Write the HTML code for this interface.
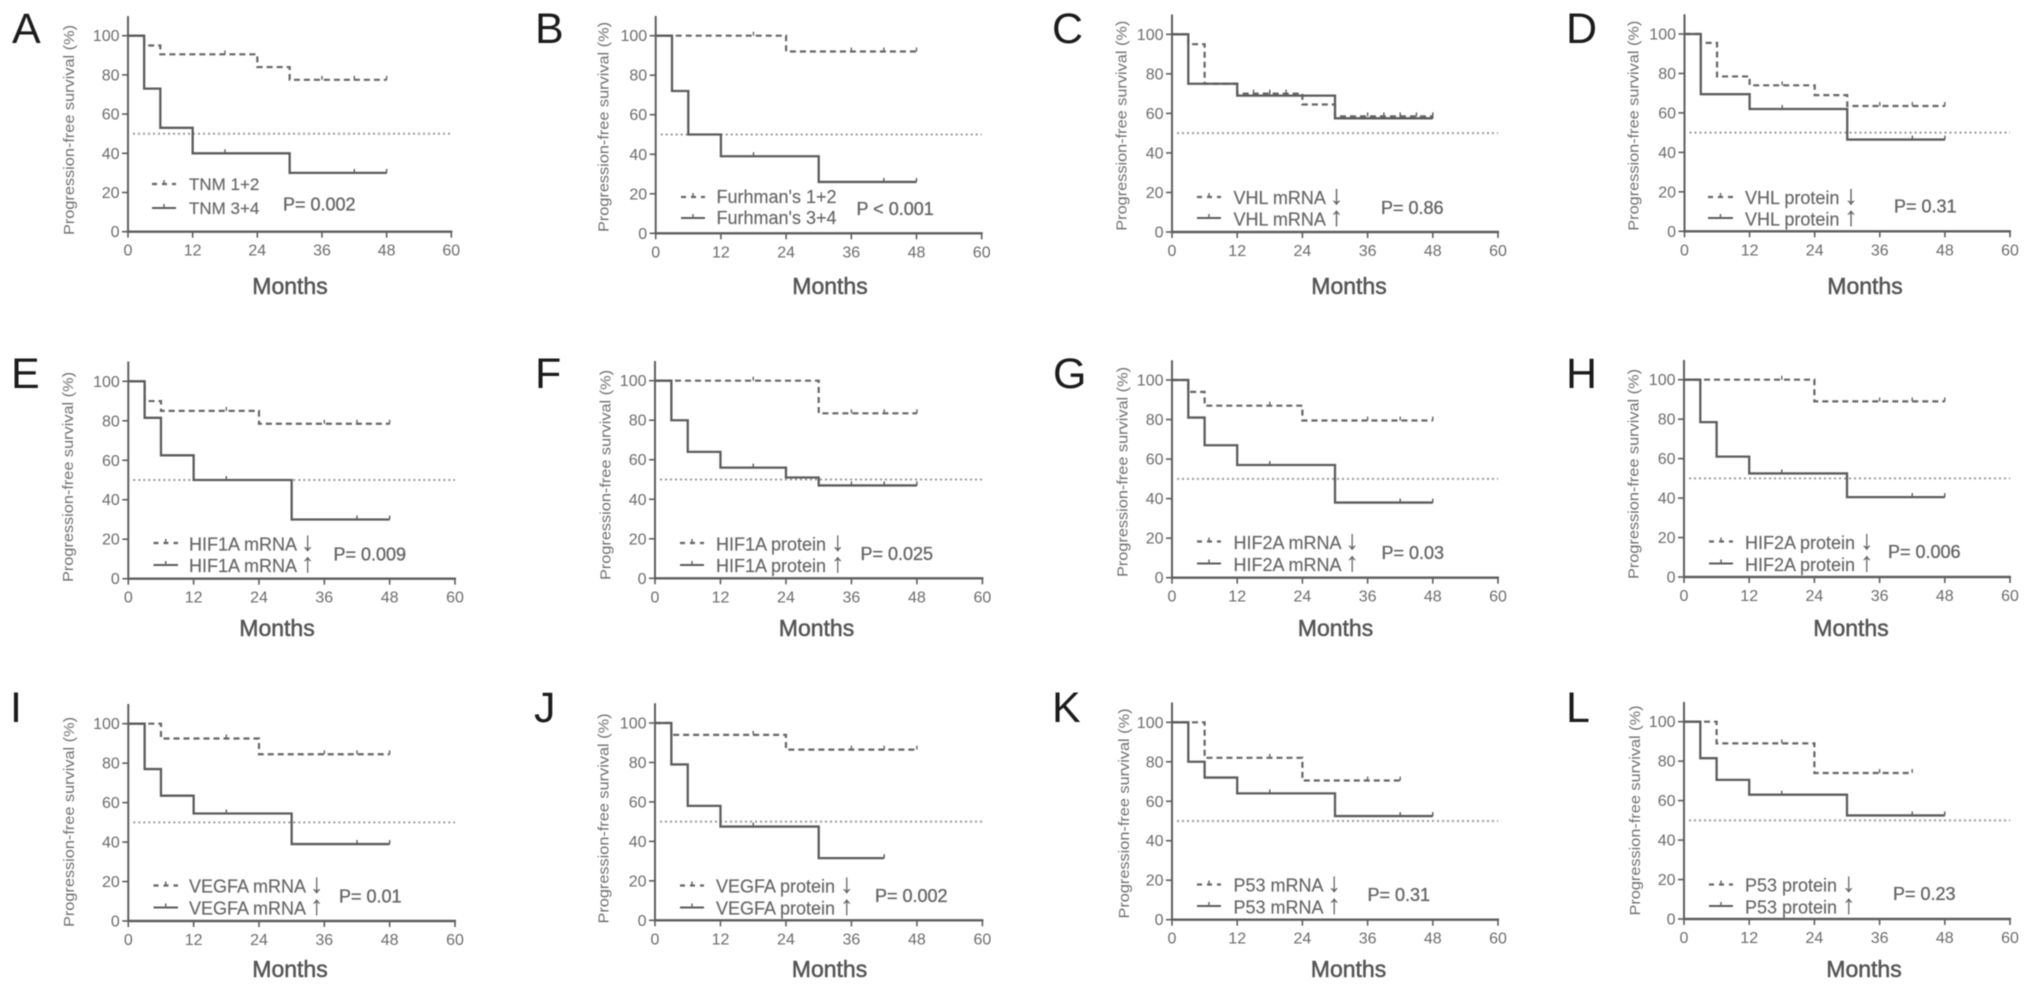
<!DOCTYPE html>
<html lang="en">
<head>
<meta charset="utf-8">
<title>Progression-free survival Kaplan-Meier panels</title>
<style>
html,body{margin:0;padding:0;background:#fff;width:2031px;height:989px;overflow:hidden}
svg{display:block;filter:blur(0.6px)}
text{font-family:"Liberation Sans",sans-serif;fill:#666}
.letter{font-size:43px;fill:#1c1c1c}
.ytitle{font-size:15px;fill:#707070}
.months{font-size:23px;fill:#555;text-anchor:middle;stroke:#555;stroke-width:.5px}
.leg{font-size:18px;fill:#666;stroke:#666;stroke-width:.15px}
.arrow{font-size:27px}
.pval{font-size:18px;fill:#666;stroke:#666;stroke-width:.35px}
.tick-label{font-size:16px;fill:#6c6c6c}
.s-dash{stroke:#666;stroke-width:2.2;stroke-dasharray:6 4;fill:none}
.s-solid{stroke:#5c5c5c;stroke-width:2.3;fill:none}
.sample-dash{stroke:#666;stroke-width:2.2;stroke-dasharray:5 5;fill:none}
.sample-solid{stroke:#5c5c5c;stroke-width:2;fill:none}
</style>
</head>
<body>
<svg id="figure" width="2031" height="989" viewBox="0 0 2031 989" xmlns="http://www.w3.org/2000/svg">

<g id="panel-A">
<text class="letter" x="12" y="43">A</text>
<text class="ytitle" x="74" y="130" text-anchor="middle" textLength="210" lengthAdjust="spacingAndGlyphs" transform="rotate(-90 74 130)">Progression-free survival (%)</text>
<text class="months" x="290" y="294">Months</text>
<line class="sample-dash" x1="152" x2="176" y1="184" y2="184"/>
<line class="sample-solid" x1="152" x2="176" y1="208" y2="208"/>
<text class="leg" style="font-size:17px" x="189" y="190">TNM 1+2</text>
<text class="leg" style="font-size:17px" x="189" y="214">TNM 3+4</text>
<text class="pval" x="283" y="210.5">P= 0.002</text>
</g>

<g id="panel-B">
<text class="letter" x="535" y="43">B</text>
<text class="ytitle" x="608.5" y="127" text-anchor="middle" textLength="210" lengthAdjust="spacingAndGlyphs" transform="rotate(-90 608.5 127)">Progression-free survival (%)</text>
<text class="months" x="830" y="294">Months</text>
<line class="sample-dash" x1="681" x2="705" y1="197" y2="197"/>
<line class="sample-solid" x1="681" x2="705" y1="218" y2="218"/>
<text class="leg" x="716.5" y="203">Furhman's 1+2</text>
<text class="leg" x="716.5" y="224">Furhman's 3+4</text>
<text class="pval" x="856.5" y="215">P &lt; 0.001</text>
</g>

<g id="panel-C">
<text class="letter" x="1052" y="43">C</text>
<text class="ytitle" x="1126.5" y="125.7" text-anchor="middle" textLength="210" lengthAdjust="spacingAndGlyphs" transform="rotate(-90 1126.5 125.7)">Progression-free survival (%)</text>
<text class="months" x="1349" y="294">Months</text>
<line class="sample-dash" x1="1197" x2="1221" y1="197" y2="197"/>
<line class="sample-solid" x1="1197" x2="1221" y1="218" y2="218"/>
<text class="leg" x="1233.5" y="204">VHL mRNA <tspan class="arrow">↓</tspan></text>
<text class="leg" x="1233.5" y="225.5">VHL mRNA <tspan class="arrow">↑</tspan></text>
<text class="pval" x="1381" y="214">P= 0.86</text>
</g>

<g id="panel-D">
<text class="letter" x="1566" y="43">D</text>
<text class="ytitle" x="1638.5" y="125.7" text-anchor="middle" textLength="210" lengthAdjust="spacingAndGlyphs" transform="rotate(-90 1638.5 125.7)">Progression-free survival (%)</text>
<text class="months" x="1865" y="294">Months</text>
<line class="sample-dash" x1="1708" x2="1733" y1="197" y2="197"/>
<line class="sample-solid" x1="1708" x2="1733" y1="218" y2="218"/>
<text class="leg" x="1745" y="204">VHL protein <tspan class="arrow">↓</tspan></text>
<text class="leg" x="1745" y="225.5">VHL protein <tspan class="arrow">↑</tspan></text>
<text class="pval" x="1894" y="212.5">P= 0.31</text>
</g>

<g id="panel-E">
<text class="letter" x="11" y="388">E</text>
<text class="ytitle" x="73" y="477" text-anchor="middle" textLength="210" lengthAdjust="spacingAndGlyphs" transform="rotate(-90 73 477)">Progression-free survival (%)</text>
<text class="months" x="277" y="636">Months</text>
<line class="sample-dash" x1="153.5" x2="178" y1="543" y2="543"/>
<line class="sample-solid" x1="153.5" x2="178" y1="565" y2="565"/>
<text class="leg" x="189" y="550.5">HIF1A mRNA <tspan class="arrow">↓</tspan></text>
<text class="leg" x="189" y="572">HIF1A mRNA <tspan class="arrow">↑</tspan></text>
<text class="pval" x="333.5" y="560.5">P= 0.009</text>
</g>

<g id="panel-F">
<text class="letter" x="535" y="388">F</text>
<text class="ytitle" x="610.5" y="475" text-anchor="middle" textLength="210" lengthAdjust="spacingAndGlyphs" transform="rotate(-90 610.5 475)">Progression-free survival (%)</text>
<text class="months" x="816.5" y="636">Months</text>
<line class="sample-dash" x1="680" x2="704" y1="543" y2="543"/>
<line class="sample-solid" x1="680" x2="704" y1="565" y2="565"/>
<text class="leg" x="716" y="550.5">HIF1A protein <tspan class="arrow">↓</tspan></text>
<text class="leg" x="716" y="572">HIF1A protein <tspan class="arrow">↑</tspan></text>
<text class="pval" x="860.5" y="560">P= 0.025</text>
</g>

<g id="panel-G">
<text class="letter" x="1053" y="388">G</text>
<text class="ytitle" x="1127.5" y="472" text-anchor="middle" textLength="210" lengthAdjust="spacingAndGlyphs" transform="rotate(-90 1127.5 472)">Progression-free survival (%)</text>
<text class="months" x="1335.5" y="636">Months</text>
<line class="sample-dash" x1="1197" x2="1221" y1="541.5" y2="541.5"/>
<line class="sample-solid" x1="1197" x2="1221" y1="563.5" y2="563.5"/>
<text class="leg" x="1233.5" y="549">HIF2A mRNA <tspan class="arrow">↓</tspan></text>
<text class="leg" x="1233.5" y="571">HIF2A mRNA <tspan class="arrow">↑</tspan></text>
<text class="pval" x="1381.5" y="559">P= 0.03</text>
</g>

<g id="panel-H">
<text class="letter" x="1566" y="388">H</text>
<text class="ytitle" x="1638.5" y="474" text-anchor="middle" textLength="210" lengthAdjust="spacingAndGlyphs" transform="rotate(-90 1638.5 474)">Progression-free survival (%)</text>
<text class="months" x="1851" y="636">Months</text>
<line class="sample-dash" x1="1709" x2="1733" y1="541.5" y2="541.5"/>
<line class="sample-solid" x1="1709" x2="1733" y1="563.5" y2="563.5"/>
<text class="leg" x="1745" y="549">HIF2A protein <tspan class="arrow">↓</tspan></text>
<text class="leg" x="1745" y="571">HIF2A protein <tspan class="arrow">↑</tspan></text>
<text class="pval" x="1888" y="558">P= 0.006</text>
</g>

<g id="panel-I">
<text class="letter" x="10" y="722">I</text>
<text class="ytitle" x="74" y="822" text-anchor="middle" textLength="210" lengthAdjust="spacingAndGlyphs" transform="rotate(-90 74 822)">Progression-free survival (%)</text>
<text class="months" x="290" y="977">Months</text>
<line class="sample-dash" x1="153.5" x2="178" y1="885.5" y2="885.5"/>
<line class="sample-solid" x1="153.5" x2="178" y1="907.5" y2="907.5"/>
<text class="leg" x="189" y="892.5">VEGFA mRNA <tspan class="arrow">↓</tspan></text>
<text class="leg" x="189" y="914.5">VEGFA mRNA <tspan class="arrow">↑</tspan></text>
<text class="pval" x="339" y="902.5">P= 0.01</text>
</g>

<g id="panel-J">
<text class="letter" x="534" y="722">J</text>
<text class="ytitle" x="608.5" y="818.5" text-anchor="middle" textLength="210" lengthAdjust="spacingAndGlyphs" transform="rotate(-90 608.5 818.5)">Progression-free survival (%)</text>
<text class="months" x="829.5" y="977">Months</text>
<line class="sample-dash" x1="680" x2="704" y1="885.5" y2="885.5"/>
<line class="sample-solid" x1="680" x2="704" y1="907.5" y2="907.5"/>
<text class="leg" x="716" y="892.5">VEGFA protein <tspan class="arrow">↓</tspan></text>
<text class="leg" x="716" y="914.5">VEGFA protein <tspan class="arrow">↑</tspan></text>
<text class="pval" x="875" y="902">P= 0.002</text>
</g>

<g id="panel-K">
<text class="letter" x="1052" y="722">K</text>
<text class="ytitle" x="1129" y="813.5" text-anchor="middle" textLength="210" lengthAdjust="spacingAndGlyphs" transform="rotate(-90 1129 813.5)">Progression-free survival (%)</text>
<text class="months" x="1348.5" y="977">Months</text>
<line class="sample-dash" x1="1197" x2="1221" y1="884.5" y2="884.5"/>
<line class="sample-solid" x1="1197" x2="1221" y1="906" y2="906"/>
<text class="leg" x="1233.5" y="891.5">P53 mRNA <tspan class="arrow">↓</tspan></text>
<text class="leg" x="1233.5" y="913.5">P53 mRNA <tspan class="arrow">↑</tspan></text>
<text class="pval" x="1367.5" y="901">P= 0.31</text>
</g>

<g id="panel-L">
<text class="letter" x="1566" y="722">L</text>
<text class="ytitle" x="1640" y="810.5" text-anchor="middle" textLength="210" lengthAdjust="spacingAndGlyphs" transform="rotate(-90 1640 810.5)">Progression-free survival (%)</text>
<text class="months" x="1864" y="977">Months</text>
<line class="sample-dash" x1="1709" x2="1733" y1="884.5" y2="884.5"/>
<line class="sample-solid" x1="1709" x2="1733" y1="906" y2="906"/>
<text class="leg" x="1745" y="891.5">P53 protein <tspan class="arrow">↓</tspan></text>
<text class="leg" x="1745" y="913.5">P53 protein <tspan class="arrow">↑</tspan></text>
<text class="pval" x="1893" y="900">P= 0.23</text>
</g>
</svg>

<script>
// Shared axis values
const xTickLabels = [0, 12, 24, 36, 48, 60];
const yTickLabels = [0, 20, 40, 60, 80, 100];
const referenceSurvival = [50];

// Series values (months at each step, survival % after step, censor months)
const aLowMonths = [0, 3, 6, 24, 30, 48];
const aLowSurvival = [100, 95, 90.5, 84, 77.5, 77.5];
const aLowCensored = [18, 36, 42, 48];
const aHighMonths = [0, 3, 6, 12, 30, 48];
const aHighSurvival = [100, 73, 53, 40, 30, 30];
const aHighCensored = [18, 42, 48];

const bLowMonths = [0, 24, 48];
const bLowSurvival = [100, 92, 92];
const bLowCensored = [18, 36, 42, 48];
const bHighMonths = [0, 3, 6, 12, 30, 48];
const bHighSurvival = [100, 72, 50, 39, 26, 26];
const bHighCensored = [18, 42, 48];

const cLowMonths = [0, 3, 6, 12, 24, 30, 48];
const cLowSurvival = [100, 95, 75, 70, 64.5, 58.5, 58.5];
const cLowCensored = [15, 18, 21, 36, 39, 42, 45, 48];
const cHighMonths = [0, 3, 12, 30, 48];
const cHighSurvival = [100, 75, 69, 57.5, 57.5];
const cHighCensored = [18, 42, 48];

const dLowMonths = [0, 3, 6, 12, 24, 30, 48];
const dLowSurvival = [100, 95.5, 78.5, 74, 69, 63.5, 63.5];
const dLowCensored = [18, 36, 42, 48];
const dHighMonths = [0, 3, 12, 30, 48];
const dHighSurvival = [100, 69.5, 62, 46.5, 46.5];
const dHighCensored = [18, 42, 48];

const eLowMonths = [0, 3, 6, 24, 48];
const eLowSurvival = [100, 90, 85, 78.5, 78.5];
const eLowCensored = [18, 36, 42, 48];
const eHighMonths = [0, 3, 6, 12, 30, 48];
const eHighSurvival = [100, 81.5, 62.5, 50, 30, 30];
const eHighCensored = [18, 42, 48];

const fLowMonths = [0, 30, 48];
const fLowSurvival = [100, 83.5, 83.5];
const fLowCensored = [18, 36, 42, 48];
const fHighMonths = [0, 3, 6, 12, 24, 30, 48];
const fHighSurvival = [100, 80, 64, 56, 51, 47, 47];
const fHighCensored = [18, 36, 42, 48];

const gLowMonths = [0, 3, 6, 24, 48];
const gLowSurvival = [100, 94, 87, 79.5, 79.5];
const gLowCensored = [18, 36, 42, 48];
const gHighMonths = [0, 3, 6, 12, 30, 48];
const gHighSurvival = [100, 81, 67, 57, 38, 38];
const gHighCensored = [18, 42, 48];

const hLowMonths = [0, 24, 48];
const hLowSurvival = [100, 89, 89];
const hLowCensored = [18, 36, 42, 48];
const hHighMonths = [0, 3, 6, 12, 30, 48];
const hHighSurvival = [100, 78.5, 61, 52.5, 40.5, 40.5];
const hHighCensored = [18, 42, 48];

const iLowMonths = [0, 6, 24, 48];
const iLowSurvival = [100, 92.5, 84.5, 84.5];
const iLowCensored = [18, 36, 42, 48];
const iHighMonths = [0, 3, 6, 12, 30, 48];
const iHighSurvival = [100, 77, 63.5, 54.5, 39, 39];
const iHighCensored = [18, 42, 48];

const jLowMonths = [0, 3, 24, 48];
const jLowSurvival = [100, 94, 86.5, 86.5];
const jLowCensored = [18, 36, 42, 48];
const jHighMonths = [0, 3, 6, 12, 30, 42];
const jHighSurvival = [100, 79, 58, 47.5, 31.5, 31.5];
const jHighCensored = [18, 42];

const kLowMonths = [0, 6, 24, 42];
const kLowSurvival = [100, 82, 70.5, 70.5];
const kLowCensored = [18, 36, 42];
const kHighMonths = [0, 3, 6, 12, 30, 48];
const kHighSurvival = [100, 80, 72, 64, 52.5, 52.5];
const kHighCensored = [18, 42, 48];

const lLowMonths = [0, 6, 24, 42];
const lLowSurvival = [100, 89, 74, 74];
const lLowCensored = [18, 36, 42];
const lHighMonths = [0, 3, 6, 12, 30, 48];
const lHighSurvival = [100, 81.5, 70.5, 63, 52.5, 52.5];
const lHighCensored = [18, 42, 48];

// Panel wiring: series references plus the plot frame of each panel
const panels = [
  {id:'A', low:[aLowMonths,aLowSurvival,aLowCensored], high:[aHighMonths,aHighSurvival,aHighCensored], left:128,   right:451.3, bottom:231.7, top100:35.7},
  {id:'B', low:[bLowMonths,bLowSurvival,bLowCensored], high:[bHighMonths,bHighSurvival,bHighCensored], left:655.7, right:981.7, bottom:233.3, top100:35.7},
  {id:'C', low:[cLowMonths,cLowSurvival,cLowCensored], high:[cHighMonths,cHighSurvival,cHighCensored], left:1172,  right:1498,  bottom:232,   top100:34.3},
  {id:'D', low:[dLowMonths,dLowSurvival,dLowCensored], high:[dHighMonths,dHighSurvival,dHighCensored], left:1684.5,right:2010,  bottom:231.3, top100:34},
  {id:'E', low:[eLowMonths,eLowSurvival,eLowCensored], high:[eHighMonths,eHighSurvival,eHighCensored], left:128.3, right:455,   bottom:578.7, top100:381.3},
  {id:'F', low:[fLowMonths,fLowSurvival,fLowCensored], high:[fHighMonths,fHighSurvival,fHighCensored], left:655,   right:982.4, bottom:578.3, top100:380.7},
  {id:'G', low:[gLowMonths,gLowSurvival,gLowCensored], high:[gHighMonths,gHighSurvival,gHighCensored], left:1172,  right:1498,  bottom:577.7, top100:380},
  {id:'H', low:[hLowMonths,hLowSurvival,hLowCensored], high:[hHighMonths,hHighSurvival,hHighCensored], left:1684,  right:2010,  bottom:577,   top100:379.7},
  {id:'I', low:[iLowMonths,iLowSurvival,iLowCensored], high:[iHighMonths,iHighSurvival,iHighCensored], left:128.3, right:455,   bottom:921,   top100:723.7},
  {id:'J', low:[jLowMonths,jLowSurvival,jLowCensored], high:[jHighMonths,jHighSurvival,jHighCensored], left:655,   right:982.4, bottom:920.3, top100:723},
  {id:'K', low:[kLowMonths,kLowSurvival,kLowCensored], high:[kHighMonths,kHighSurvival,kHighCensored], left:1172,  right:1498,  bottom:919.7, top100:722.3},
  {id:'L', low:[lLowMonths,lLowSurvival,lLowCensored], high:[lHighMonths,lHighSurvival,lHighCensored], left:1684,  right:2010,  bottom:919,   top100:721.7}
];

const SVG_NS = 'http://www.w3.org/2000/svg';

function make(parent, tag, attrs) {
  const node = document.createElementNS(SVG_NS, tag);
  Object.keys(attrs).forEach(function (k) { node.setAttribute(k, attrs[k]); });
  parent.appendChild(node);
  return node;
}

function survivalAt(months, survival, t) {
  let value = survival[0];
  for (let i = 0; i < months.length; i++) {
    if (months[i] <= t) value = survival[i];
  }
  return value;
}

function drawSeries(group, tag, series, cls, color, xScale, yScale) {
  const months = series[0];
  const survival = series[1];
  const censored = series[2];
  let d = 'M' + xScale(months[0]) + ' ' + yScale(survival[0]);
  for (let i = 1; i < months.length; i++) {
    d += ' H' + xScale(months[i]) + ' V' + yScale(survival[i]);
  }
  const path = make(group, 'path', {d: d, 'class': cls});
  
  
  censored.forEach(function (t) {
    const x = xScale(t);
    const y = yScale(survivalAt(months, survival, t));
    const mark = make(group, 'line', {x1: x, x2: x, y1: y, y2: y - 4, stroke: color, 'stroke-width': 1.4});
    
    
  });
}

panels.forEach(function (p) {
  const group = document.getElementById('panel-' + p.id);
  const key = p.id.toLowerCase();
  const xScale = function (m) { return +(p.left + (p.right - p.left) * m / 60).toFixed(2); };
  const yScale = function (s) { return +(p.bottom - (p.bottom - p.top100) * s / 100).toFixed(2); };
  const axisColor = '#5e5e5e';

  const yAxis = make(group, 'line', {x1: xScale(0), x2: xScale(0), y1: yScale(110), y2: yScale(0), stroke: axisColor, 'stroke-width': 2});
  
  

  const xAxis = make(group, 'line', {x1: xScale(0) - 1, x2: xScale(60) + 1, y1: yScale(0), y2: yScale(0), stroke: axisColor, 'stroke-width': 2.4});
  
  

  yTickLabels.forEach(function (v) {
    const y = yScale(v);
    const tick = make(group, 'line', {x1: xScale(0) - 6, x2: xScale(0), y1: y, y2: y, stroke: axisColor, 'stroke-width': 1.6});
    
    
    const label = make(group, 'text', {x: xScale(0) - 8.5, y: y + 5.5, 'text-anchor': 'end', 'class': 'tick-label'});
    label.textContent = String(v);
    
    
  });

  xTickLabels.forEach(function (v) {
    const x = xScale(v);
    const tick = make(group, 'line', {x1: x, x2: x, y1: yScale(0), y2: yScale(0) + 6, stroke: axisColor, 'stroke-width': 1.6});
    
    
    const label = make(group, 'text', {x: x, y: yScale(0) + 24, 'text-anchor': 'middle', 'class': 'tick-label'});
    label.textContent = String(v);
    
    
  });

  const refY = yScale(referenceSurvival[0]);
  const ref = make(group, 'line', {x1: xScale(0) + 5, x2: xScale(60), y1: refY, y2: refY, stroke: '#9a9a9a', 'stroke-width': 2, 'stroke-dasharray': '2 3'});
  
  

  drawSeries(group, 'low-' + key, p.low, 's-dash', '#666', xScale, yScale);
  drawSeries(group, 'high-' + key, p.high, 's-solid', '#5c5c5c', xScale, yScale);

  group.querySelectorAll('.sample-dash, .sample-solid').forEach(function (sample) {
    const cx = (parseFloat(sample.getAttribute('x1')) + parseFloat(sample.getAttribute('x2'))) / 2;
    const cy = parseFloat(sample.getAttribute('y1'));
    const mark = make(group, 'line', {x1: cx, x2: cx, y1: cy, y2: cy - 4, stroke: '#666', 'stroke-width': 1.5});
    
    
  });
});
</script>
</body>
</html>
